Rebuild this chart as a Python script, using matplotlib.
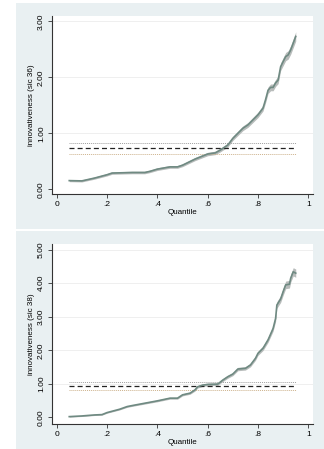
import numpy as np
import matplotlib.pyplot as plt
from matplotlib.patches import Rectangle

plt.rcParams['font.family'] = ['Liberation Sans', 'DejaVu Sans']

W, H, DPI = 324, 449, 100

# quantile curve, sic 36
q36 = [0.05, 0.10, 0.15, 0.20, 0.22, 0.30, 0.35, 0.37, 0.40, 0.45, 0.48, 0.50,
       0.55, 0.60, 0.63, 0.65, 0.68, 0.70, 0.72, 0.74, 0.76, 0.78, 0.80, 0.82,
       0.83, 0.84, 0.85, 0.86, 0.87, 0.88, 0.89, 0.90, 0.91, 0.92, 0.93, 0.94, 0.95]
v36 = [0.155, 0.15, 0.20, 0.26, 0.29, 0.30, 0.30, 0.32, 0.36, 0.40, 0.40, 0.43,
       0.54, 0.63, 0.65, 0.70, 0.79, 0.91, 1.00, 1.09, 1.15, 1.24, 1.33, 1.45,
       1.60, 1.77, 1.82, 1.82, 1.90, 1.95, 2.19, 2.28, 2.37, 2.40, 2.49, 2.61, 2.73]
mean36, hi36, lo36 = 0.73, 0.83, 0.63

# quantile curve, sic 38
q38 = [0.05, 0.10, 0.15, 0.18, 0.20, 0.25, 0.28, 0.30, 0.35, 0.40, 0.45, 0.48,
       0.50, 0.53, 0.55, 0.56, 0.58, 0.60, 0.64, 0.66, 0.68, 0.70, 0.72, 0.75,
       0.77, 0.79, 0.80, 0.82, 0.84, 0.86, 0.87, 0.875, 0.89, 0.90, 0.91, 0.925,
       0.93, 0.94, 0.95]
v38 = [0.02, 0.04, 0.07, 0.08, 0.14, 0.24, 0.32, 0.35, 0.42, 0.49, 0.57, 0.57,
       0.67, 0.72, 0.82, 0.91, 0.96, 0.98, 0.99, 1.11, 1.21, 1.29, 1.44, 1.46,
       1.56, 1.76, 1.91, 2.06, 2.31, 2.65, 2.95, 3.35, 3.53, 3.75, 3.95, 3.97,
       4.15, 4.34, 4.30]
mean38, hi38, lo38 = 0.93, 1.04, 0.82

xticks = [0, 0.2, 0.4, 0.6, 0.8, 1]
xlabels = ['0', '.2', '.4', '.6', '.8', '1']

panel_bg = '#e9f0f2'
line_c = '#6f8a82'
band_c = '#b8bcbb'

fig = plt.figure(figsize=(W / DPI, H / DPI), dpi=DPI, facecolor='white')

# panel backgrounds (pixel boxes: x0, y0, x1, y1)
for x0, y0, x1, y1 in [(16, 3, 324, 229), (16, 231, 324, 449)]:
    fig.patches.append(Rectangle((x0 / W, 1 - y1 / H), (x1 - x0) / W, (y1 - y0) / H,
                                 transform=fig.transFigure, facecolor=panel_bg,
                                 edgecolor='none', zorder=-5))


def panel(rect, q, v, mean, hi, lo, ylim, yticks, ylabel):
    ax = fig.add_axes(rect)
    ax.set_facecolor('white')
    q = np.array(q)
    v = np.array(v)
    band = 0.015 + 0.025 * v
    ax.fill_between(q, v - band, v + band, color=band_c, lw=0, zorder=2)
    ax.plot(q, v, color=line_c, lw=1.2, zorder=3)
    ax.hlines(hi, 0.05, 0.95, color='#a0a0a0', lw=0.7, ls=(0, (1, 1)), zorder=2)
    ax.hlines(lo, 0.05, 0.95, color='#cdb28c', lw=0.7, ls=(0, (1, 1)), zorder=2)
    ax.hlines(mean, 0.05, 0.95, color='#222222', lw=0.9, ls=(0, (4, 2.5)), zorder=2)
    for t in yticks[1:]:
        ax.axhline(t, color='#ececec', lw=0.6, zorder=1)
    ax.set_xlim(-0.0186, 1.0186)
    ax.set_ylim(*ylim)
    ax.set_xticks(xticks, xlabels)
    ax.set_yticks(yticks, ['%.2f' % t for t in yticks])
    for s in ['top', 'right']:
        ax.spines[s].set_visible(False)
    for s in ['left', 'bottom']:
        ax.spines[s].set_color('#333333')
        ax.spines[s].set_linewidth(0.8)
    ax.tick_params(labelsize=6, length=3, width=0.6, color='#333333', pad=2)
    for lab in ax.get_yticklabels():
        lab.set_rotation(90)
        lab.set_va('center')
    ax.set_xlabel('Quantile', fontsize=5.8, labelpad=1)
    ax.set_ylabel(ylabel, fontsize=5.8, labelpad=2)
    return ax


panel([52 / W, 1 - 194 / H, (313 - 52) / W, (194 - 16) / H], q36, v36,
      mean36, hi36, lo36, (-0.084, 3.095), [0, 1, 2, 3], 'innovativeness (sic 36)')
panel([52 / W, 1 - 424 / H, (313 - 52) / W, (424 - 244) / H], q38, v38,
      mean38, hi38, lo38, (-0.2, 5.17), [0, 1, 2, 3, 4, 5], 'innovativeness (sic 38)')

fig.savefig('out.png', dpi=DPI, facecolor='white')
